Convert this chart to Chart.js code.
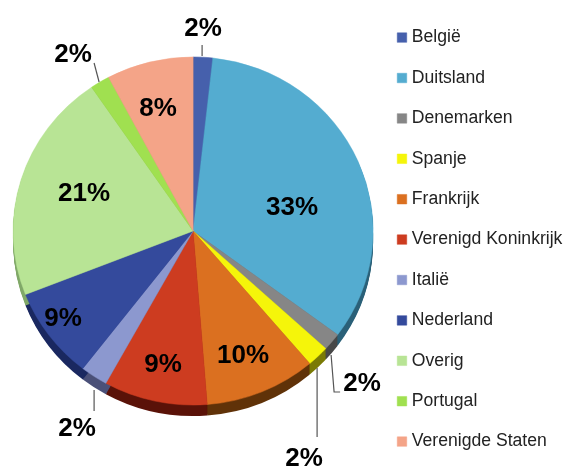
<!DOCTYPE html>
<html><head><meta charset="utf-8">
<style>html,body{margin:0;padding:0;background:#fff}#w{width:565px;height:468px;position:relative;overflow:hidden}canvas{filter:blur(0.4px)}</style>
<script src="https://cdn.jsdelivr.net/npm/chart.js@4"></script></head>
<body><div id="w"><canvas id="c" width="565" height="468"></canvas></div>
<script>
const categories = ['België','Duitsland','Denemarken','Spanje','Frankrijk','Verenigd Koninkrijk','Italië','Nederland','Overig','Portugal','Verenigde Staten'];
const shares = [1.75,33.4,1.64,1.97,9.97,9.3,2.44,8.56,21.4,1.75,7.78];
const sliceColors = ['#4660ac','#54acd0','#868686','#f5f50a','#db7020','#cd3c20','#8c98cf','#344a9c','#b8e495','#a0e050','#f4a488'];
const sideColors = ['#1e2a50','#2a6078','#484848','#7a7a05','#603208','#5a1208','#4a5078','#1a2860','#80a868','#6a9a30','#a07058'];
const labelOffsets = [[10,-202],[99,-23],[169,153],[111,228],[50,125],[-30,134],[-116,198],[-130,88],[-109,-37],[-120,-176],[-35,-122]];
const leaderLines = [
  [[9,-175],[9,-186]],null,[[138,124],[141,161],[147,161]],[[124,137],[124,206]],null,null,
  [[-99,159],[-99,180]],null,null,[[-94,-149],[-99,-168]],null];
const squash = 0.967, depth = 11;

const legendColumn = {
  id:'legendColumn',
  beforeLayout(chart){
    const l = chart.legend;
    if(l._oneColumn) return;
    l._oneColumn = true;
    const fit = l.fit;
    l.fit = function(){ const m=this.maxHeight; this.maxHeight=600; fit.call(this); this.maxHeight=m; };
  },
  afterLayout(chart){ chart.legend.bottom = chart.height + 100; }
};

const pie3d = {
  id:'pie3d',
  beforeDatasetsDraw(chart){
    const ctx = chart.ctx, arcs = chart.getDatasetMeta(0).data;
    const {x,y} = arcs[0].getProps(['x','y'],true);
    ctx.save();
    ctx.translate(x,y); ctx.scale(1,squash); ctx.translate(-x,-y);
    arcs.forEach((arc,i)=>{
      const p = arc.getProps(['x','y','startAngle','endAngle','outerRadius'],true);
      ctx.fillStyle = sideColors[i];
      for(let d=1;d<=depth;d++){
        ctx.beginPath();
        ctx.moveTo(p.x,p.y+d/squash);
        ctx.arc(p.x,p.y+d/squash,p.outerRadius,p.startAngle,p.endAngle);
        ctx.closePath();
        ctx.fill();
      }
    });
  },
  afterDatasetsDraw(chart){ chart.ctx.restore(); },
  afterDraw(chart){
    const ctx = chart.ctx, arcs = chart.getDatasetMeta(0).data;
    const {x,y} = arcs[0].getProps(['x','y'],true);
    ctx.save();
    ctx.strokeStyle='#555'; ctx.lineWidth=1.2;
    leaderLines.forEach(l=>{
      if(!l) return;
      ctx.beginPath();
      l.forEach((q,j)=> j? ctx.lineTo(x+q[0],y+q[1]) : ctx.moveTo(x+q[0],y+q[1]));
      ctx.stroke();
    });
    ctx.fillStyle='#000'; ctx.font='bold 26px "Liberation Sans"';
    ctx.textAlign='center'; ctx.textBaseline='middle';
    shares.forEach((v,i)=>{
      ctx.fillText(Math.round(v)+'%', x+labelOffsets[i][0], y+labelOffsets[i][1]);
    });
    ctx.restore();
  }
};

new Chart(document.getElementById('c'),{
  type:'pie',
  data:{labels:categories,datasets:[{data:shares,backgroundColor:sliceColors,borderColor:sliceColors,borderWidth:0.5,radius:180,clip:false}]},
  options:{
    responsive:false,animation:false,
    layout:{padding:{left:8,right:-7.4,top:6,bottom:12}},
    plugins:{
      tooltip:{enabled:false},
      legend:{position:'right',align:'start',
        labels:{font:{family:'"Liberation Sans"',size:17.6},color:'#222',boxWidth:2,boxHeight:9.5,usePointStyle:true,pointStyle:'rect',padding:22.8}}
    }
  },
  plugins:[legendColumn,pie3d]
});
</script></body></html>
